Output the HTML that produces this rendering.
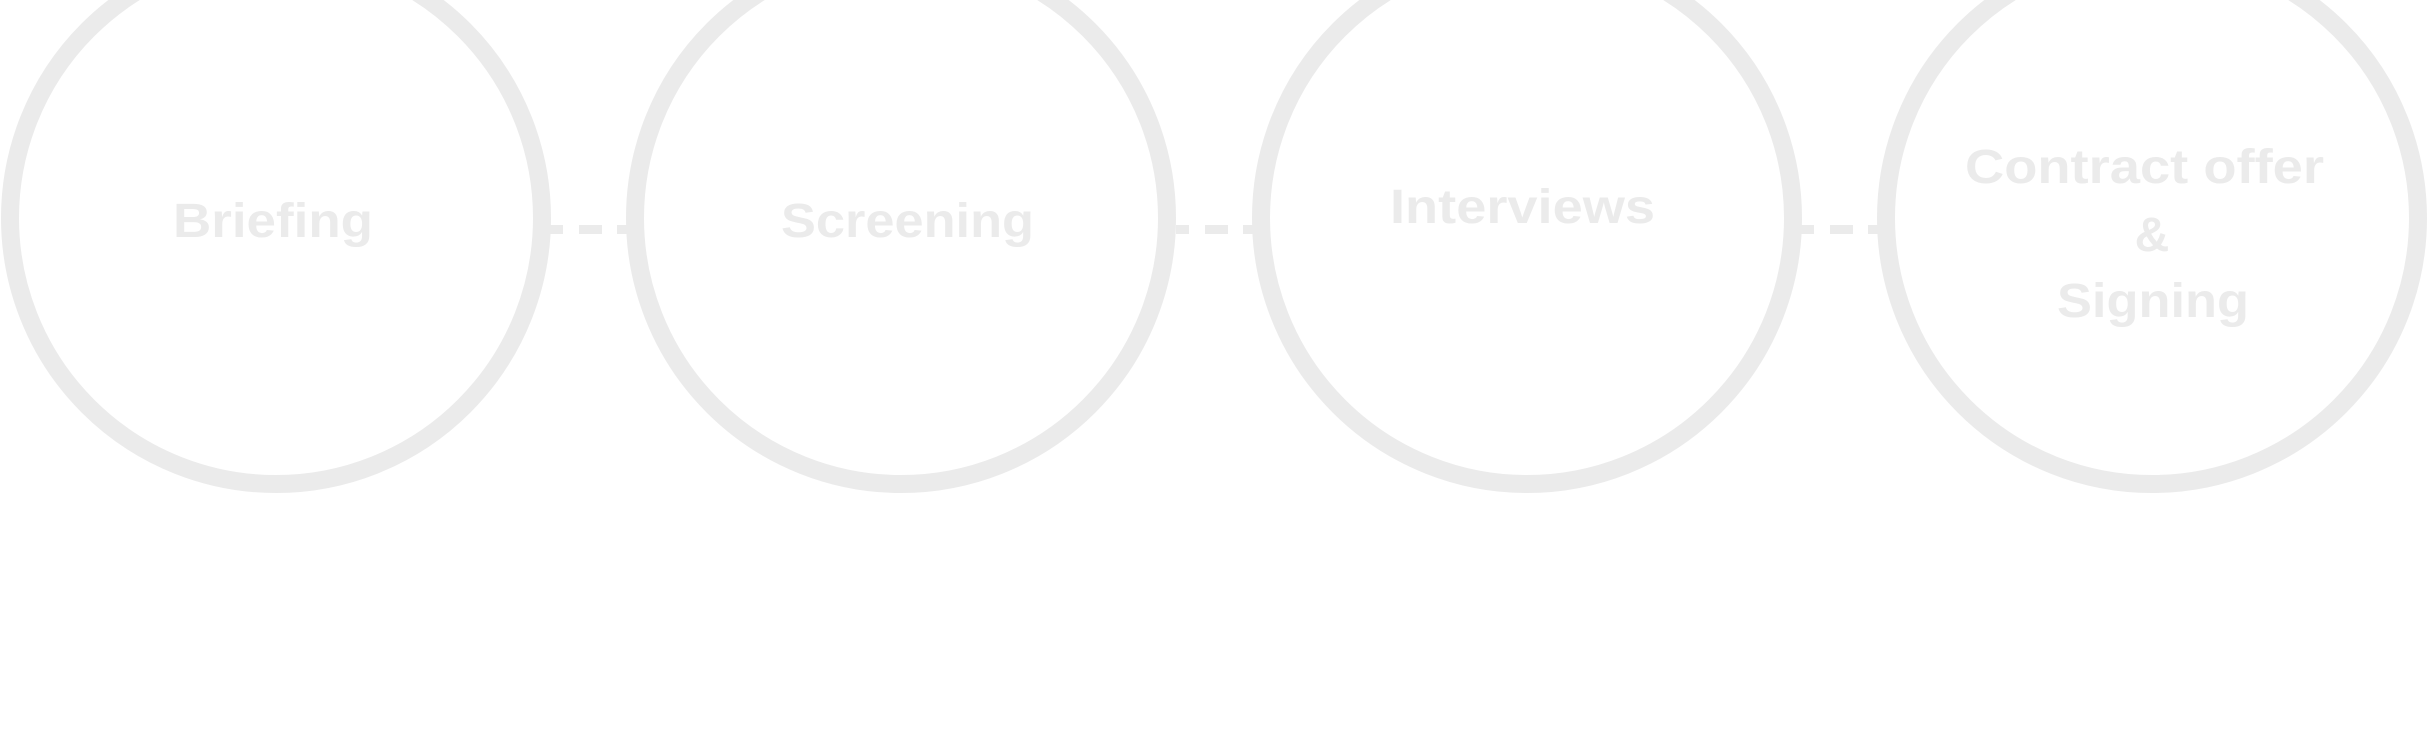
<!DOCTYPE html>
<html><head><meta charset="utf-8"><style>
html,body{margin:0;padding:0;background:#fff;}
svg{display:block;}
text{font-family:"Liberation Sans",sans-serif;font-weight:bold;fill:#ebebeb;font-size:48px;}
</style></head><body>
<svg width="2428" height="756" viewBox="0 0 2428 756" xmlns="http://www.w3.org/2000/svg">
<g fill="none" stroke="#ebebeb" stroke-width="18">
<circle cx="276" cy="218" r="266"/>
<circle cx="901" cy="218" r="266"/>
<circle cx="1527" cy="218" r="266"/>
<circle cx="2152" cy="218" r="266"/>
</g>
<g fill="#ebebeb">
<rect x="550" y="225" width="13" height="9"/><rect x="579" y="225" width="23" height="9"/><rect x="617" y="225" width="12" height="9"/>
<rect x="1176" y="225" width="13" height="9"/><rect x="1205" y="225" width="23" height="9"/><rect x="1243" y="225" width="12" height="9"/>
<rect x="1801" y="225" width="13" height="9"/><rect x="1830" y="225" width="23" height="9"/><rect x="1868" y="225" width="12" height="9"/>
</g>
<text x="173" y="237" textLength="200" lengthAdjust="spacingAndGlyphs">Briefing</text>
<text x="781" y="237" textLength="253" lengthAdjust="spacingAndGlyphs">Screening</text>
<text x="1390" y="223" textLength="265" lengthAdjust="spacingAndGlyphs">Interviews</text>
<text x="1965" y="183" textLength="359" lengthAdjust="spacingAndGlyphs">Contract offer</text>
<text x="2152" y="251" text-anchor="middle">&amp;</text>
<text x="2057" y="317" textLength="192" lengthAdjust="spacingAndGlyphs">Signing</text>
</svg>
</body></html>
